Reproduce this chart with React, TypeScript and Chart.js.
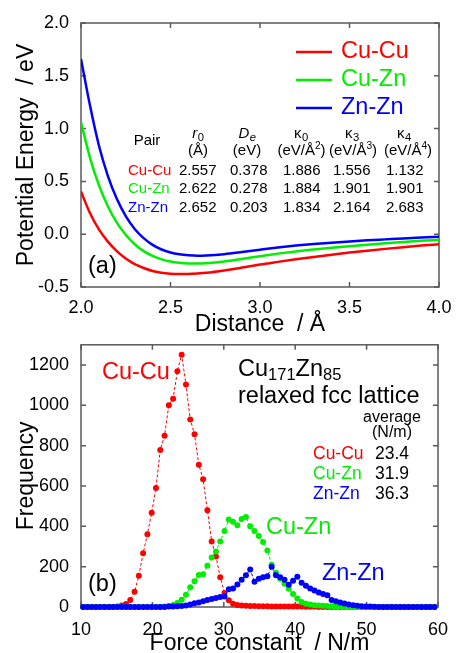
import React, { useEffect, useRef } from 'react';
import { Chart, registerables } from 'chart.js';

Chart.register(...registerables);

const FONT = '"Liberation Sans", Arial, Helvetica, sans-serif';
const AXIS = '#5a5a5a';

// ---------- Panel (a): potential energy ----------
const pairNames = ['Cu-Cu', 'Cu-Zn', 'Zn-Zn'];
const pairColors = ['#ff0000', '#00ee00', '#0000ff'];

const distance = [2.0, 2.05, 2.1, 2.15, 2.2, 2.25, 2.3, 2.35, 2.4, 2.45, 2.5, 2.55, 2.6, 2.65, 2.7,
  2.8, 2.9, 3.0, 3.1, 3.2, 3.3, 3.4, 3.5, 3.6, 3.7, 3.8, 3.9, 4.0];
const energyCuCu = [0.405, 0.2, 0.045, -0.07, -0.16, -0.23, -0.283, -0.32, -0.348, -0.366, -0.375, -0.378, -0.377, -0.372, -0.365,
  -0.343, -0.316, -0.287, -0.262, -0.238, -0.215, -0.194, -0.174, -0.156, -0.139, -0.123, -0.108, -0.095];
const energyCuZn = [1.063, 0.725, 0.465, 0.265, 0.11, -0.005, -0.095, -0.16, -0.206, -0.238, -0.259, -0.271, -0.277, -0.278, -0.274,
  -0.258, -0.234, -0.208, -0.184, -0.163, -0.145, -0.128, -0.113, -0.099, -0.086, -0.074, -0.063, -0.053];
const energyZnZn = [1.66, 1.22, 0.84, 0.553, 0.335, 0.171, 0.05, -0.037, -0.101, -0.145, -0.173, -0.19, -0.199, -0.203, -0.201,
  -0.189, -0.169, -0.147, -0.126, -0.108, -0.093, -0.08, -0.068, -0.058, -0.049, -0.04, -0.032, -0.025];

const tableR0 = ['2.557', '2.622', '2.652'];
const tableDe = ['0.378', '0.278', '0.203'];
const tableK0 = ['1.886', '1.884', '1.834'];
const tableK3 = ['1.556', '1.901', '2.164'];
const tableK4 = ['1.132', '1.901', '2.683'];

// ---------- Panel (b): force-constant histogram ----------
const forceConstant = [
  10.3, 10.9, 11.5, 12.1, 12.7, 13.3, 13.9, 14.5, 15.1, 15.7,
  16.3, 16.9, 17.5, 18.1, 18.7, 19.3, 19.9, 20.5, 21.1, 21.7,
  22.3, 22.9, 23.5, 24.1, 24.7, 25.3, 25.9, 26.5, 27.1, 27.7,
  28.3, 28.9, 29.5, 30.1, 30.7, 31.3, 31.9, 32.5, 33.1, 33.7,
  34.3, 34.9, 35.5, 36.1, 36.7, 37.3, 37.9, 38.5, 39.1, 39.7,
  40.3, 40.9, 41.5, 42.1, 42.7, 43.3, 43.9, 44.5, 45.1, 45.7,
  46.3, 46.9, 47.5, 48.1, 48.7, 49.3, 49.9, 50.5, 51.1, 51.7,
  52.3, 52.9, 53.5, 54.1, 54.7, 55.3, 55.9, 56.5, 57.1, 57.7,
  58.3, 58.9, 59.5];
const freqCuCu = [
  0, 0, 0, 0, 0, 0, 0, 0, 3, 7,
  15, 35, 75, 155, 266, 361, 467, 590, 779, 849,
  1000, 1033, 1169, 1251, 1103, 930, 857, 705, 634, 480,
  325, 251, 148, 69, 33, 16, 10, 7, 6, 5,
  5, 4, 4, 4, 3, 3, 3, 3, 2, 2,
  2, 2, 1, 1, 1, 0, 0, 0, 0, 0,
  0, 0, 0, 0, 0, 0, 0, 0, 0, 0,
  0, 0, 0, 0, 0, 0, 0, 0, 0, 0,
  0, 0, 0];
const freqCuZn = [
  0, 0, 0, 0, 0, 0, 0, 0, 0, 0,
  0, 0, 0, 0, 0, 0, 0, 0, 0, 2,
  5, 10, 20, 36, 61, 98, 128, 159, 162, 205,
  246, 275, 325, 377, 434, 423, 405, 436, 446, 400,
  377, 352, 322, 280, 210, 170, 140, 115, 90, 65,
  42, 25, 16, 12, 9, 7, 6, 5, 4, 3,
  2, 1, 1, 0, 0, 0, 0, 0, 0, 0,
  0, 0, 0, 0, 0, 0, 0, 0, 0, 0,
  0, 0, 0];
const freqZnZn = [
  0, 0, 0, 0, 0, 0, 0, 0, 0, 0,
  0, 0, 0, 0, 0, 0, 0, 0, 0, 0,
  2, 3, 4, 5, 8, 12, 18, 22, 28, 35,
  40, 45, 50, 52, 88, 92, 112, 135, 158, 186,
  125, 140, 148, 152, 200, 157, 148, 135, 110, 130,
  150, 120, 105, 92, 82, 72, 65, 58, 35, 28,
  22, 17, 13, 9, 6, 4, 3, 2, 1, 0,
  0, 0, 0, 0, 0, 0, 0, 0, 0, 0,
  0, 0, 0];
const averageForce = ['23.4', '31.9', '36.3'];

const toXY = (xs: number[], ys: number[]) => xs.map((x, i) => ({ x, y: ys[i] }));

const framePlugin = {
  id: 'frameTicks',
  beforeDatasetsDraw(chart: any) {
    const { ctx, chartArea: a, scales } = chart;
    ctx.save();
    ctx.strokeStyle = AXIS;
    ctx.lineWidth = 1.5;
    ctx.strokeRect(a.left, a.top, a.right - a.left, a.bottom - a.top);
    const L = 5;
    ctx.beginPath();
    scales.x.ticks.forEach((t: any) => {
      const p = scales.x.getPixelForValue(t.value);
      ctx.moveTo(p, a.bottom); ctx.lineTo(p, a.bottom - L);
      ctx.moveTo(p, a.top); ctx.lineTo(p, a.top + L);
    });
    scales.y.ticks.forEach((t: any) => {
      const p = scales.y.getPixelForValue(t.value);
      ctx.moveTo(a.left, p); ctx.lineTo(a.left + L, p);
      ctx.moveTo(a.right, p); ctx.lineTo(a.right - L, p);
    });
    ctx.stroke();
    ctx.restore();
  },
};

function font(size: number, italic = false) {
  return `${italic ? 'italic ' : ''}${size}px ${FONT}`;
}

function text(ctx: any, s: string, x: number, y: number, size: number, color = '#000', align = 'left') {
  ctx.font = font(size);
  ctx.fillStyle = color;
  ctx.textAlign = align;
  ctx.textBaseline = 'middle';
  ctx.fillText(s, x, y);
}

function symbolSub(ctx: any, main: string, sub: string, cx: number, base: number, size: number, mi: boolean, si: boolean) {
  const ss = size * 0.75;
  ctx.textBaseline = 'alphabetic';
  ctx.textAlign = 'left';
  ctx.fillStyle = '#000';
  ctx.font = font(size, mi); const w1 = ctx.measureText(main).width;
  ctx.font = font(ss, si); const w2 = ctx.measureText(sub).width;
  const x0 = cx - (w1 + w2) / 2;
  ctx.font = font(size, mi); ctx.fillText(main, x0, base);
  ctx.font = font(ss, si); ctx.fillText(sub, x0 + w1 + 0.5, base + 3.5);
}

function unitSup(ctx: any, pre: string, sup: string, cx: number, mid: number, size: number) {
  const ss = size * 0.68;
  ctx.textBaseline = 'middle';
  ctx.textAlign = 'left';
  ctx.fillStyle = '#000';
  ctx.font = font(size); const w1 = ctx.measureText(pre).width;
  ctx.font = font(ss); const w2 = sup ? ctx.measureText(sup).width : 0;
  ctx.font = font(size); const w3 = ctx.measureText(')').width;
  const x0 = cx - (w1 + w2 + w3) / 2;
  ctx.font = font(size); ctx.fillText(pre, x0, mid);
  if (sup) { ctx.font = font(ss); ctx.fillText(sup, x0 + w1, mid - 5); }
  ctx.font = font(size); ctx.fillText(')', x0 + w1 + w2, mid);
}

const panelAPlugin = {
  id: 'panelA',
  afterDraw(chart: any) {
    const { ctx } = chart;
    ctx.save();
    // legend
    chart.data.datasets.forEach((ds: any, i: number) => {
      const y = 52 + i * 28;
      ctx.strokeStyle = ds.borderColor;
      ctx.lineWidth = 2.5;
      ctx.beginPath(); ctx.moveTo(296, y); ctx.lineTo(332, y); ctx.stroke();
      text(ctx, ds.label, 341, y, 23.5, ds.borderColor);
    });
    // table header
    text(ctx, 'Pair', 147, 140.5, 15, '#000', 'center');
    const cols = [198, 247, 301, 352, 404];
    symbolSub(ctx, 'r', '0', cols[0], 137.5, 15, true, false);
    symbolSub(ctx, 'D', 'e', cols[1], 137.5, 15, true, true);
    symbolSub(ctx, 'κ', '0', cols[2], 137.5, 15, false, false);
    symbolSub(ctx, 'κ', '3', cols[3], 137.5, 15, false, false);
    symbolSub(ctx, 'κ', '4', cols[4], 137.5, 15, false, false);
    unitSup(ctx, '(Å', '', 198, 150.7, 15);
    unitSup(ctx, '(eV', '', 247, 150.7, 15);
    unitSup(ctx, '(eV/Å', '2', 301.5, 150.7, 15);
    unitSup(ctx, '(eV/Å', '3', 353, 150.7, 15);
    unitSup(ctx, '(eV/Å', '4', 408, 150.7, 15);
    const rowsY = [170.7, 189.3, 208.3];
    const lefts = [179, 230, 283, 333, 386];
    const vals = [tableR0, tableDe, tableK0, tableK3, tableK4];
    pairNames.forEach((p, r) => {
      text(ctx, p, 128, rowsY[r], 15, pairColors[r]);
      vals.forEach((col, c) => text(ctx, col[r], lefts[c], rowsY[r], 15));
    });
    text(ctx, '(a)', 88, 267, 23.5);
    ctx.restore();
  },
};

const panelBPlugin = {
  id: 'panelB',
  afterDraw(chart: any) {
    const { ctx } = chart;
    const o = 330;
    ctx.save();
    text(ctx, pairNames[0], 102, 373 - o, 23.5, pairColors[0]);
    text(ctx, pairNames[1], 266, 528 - o, 23.5, pairColors[1]);
    text(ctx, pairNames[2], 322, 574 - o, 23.5, pairColors[2]);
    // composition
    ctx.fillStyle = '#000';
    ctx.textAlign = 'left';
    ctx.textBaseline = 'alphabetic';
    let x = 238;
    const parts: [string, boolean][] = [['Cu', false], ['171', true], ['Zn', false], ['85', true]];
    parts.forEach(([s, sub]) => {
      ctx.font = font(sub ? 16.5 : 23.5);
      ctx.fillText(s, x, sub ? 379.5 - o : 375.5 - o);
      x += ctx.measureText(s).width;
    });
    ctx.font = font(23.5);
    ctx.fillText('relaxed fcc lattice', 238, 402.5 - o);
    text(ctx, 'average', 392, 418 - o, 16, '#000', 'center');
    text(ctx, '(N/m)', 392, 433 - o, 16, '#000', 'center');
    const ry = [454, 474, 494];
    pairNames.forEach((p, i) => {
      text(ctx, p, 313, ry[i] - o, 17.5, pairColors[i]);
      text(ctx, averageForce[i], 375, ry[i] - o, 17.5);
    });
    text(ctx, '(b)', 88, 585 - o, 23.5);
    ctx.restore();
  },
};

const tickFont = { family: FONT, size: 18 };
const titleFont = { family: FONT, size: 23 };

export default function App() {
  const refA = useRef<HTMLCanvasElement>(null);
  const refB = useRef<HTMLCanvasElement>(null);

  useEffect(() => {
    const energies = [energyCuCu, energyCuZn, energyZnZn];
    const chartA = new Chart(refA.current as HTMLCanvasElement, {
      type: 'line',
      data: {
        datasets: pairNames.map((name, i) => ({
          label: name,
          data: toXY(distance, energies[i]),
          borderColor: pairColors[i],
          backgroundColor: pairColors[i],
          borderWidth: 2.5,
          pointRadius: 0,
          cubicInterpolationMode: 'monotone' as const,
          fill: false,
        })),
      },
      options: {
        responsive: false,
        animation: false,
        events: [],
        layout: { padding: { top: 23, right: 17, left: 0, bottom: 0 } },
        plugins: { legend: { display: false }, tooltip: { enabled: false } },
        scales: {
          x: {
            type: 'linear', min: 2, max: 4,
            grid: { display: false }, border: { display: false },
            ticks: { stepSize: 0.5, autoSkip: false, maxRotation: 0, padding: 2, color: '#000', font: tickFont,
              callback: (v: any) => Number(v).toFixed(1) },
            title: { display: true, text: 'Distance  / Å', color: '#000', font: titleFont, padding: { top: 0, bottom: 2 } },
            afterFit: (s: any) => { s.height = 53; },
          },
          y: {
            type: 'linear', min: -0.5, max: 2.0,
            grid: { display: false }, border: { display: false },
            ticks: { stepSize: 0.5, autoSkip: false, padding: 4, color: '#000', font: tickFont,
              callback: (v: any) => Number(v).toFixed(1) },
            title: { display: true, text: 'Potential Energy  / eV', color: '#000', font: titleFont, padding: { top: 13, bottom: 0 } },
            afterFit: (s: any) => { s.width = 81; },
          },
        },
      } as any,
      plugins: [framePlugin, panelAPlugin],
    });

    const freqs = [freqCuCu, freqCuZn, freqZnZn];
    const orders = [2, 1, 0];
    const chartB = new Chart(refB.current as HTMLCanvasElement, {
      type: 'line',
      data: {
        datasets: pairNames.map((name, i) => ({
          label: name,
          data: toXY(forceConstant, freqs[i]),
          borderColor: pairColors[i],
          backgroundColor: pairColors[i],
          borderWidth: 1,
          borderDash: [3, 2],
          pointRadius: 3,
          pointBorderWidth: 0,
          pointBackgroundColor: pairColors[i],
          tension: 0,
          fill: false,
          clip: 6,
          order: orders[i],
        })),
      },
      options: {
        responsive: false,
        animation: false,
        events: [],
        layout: { padding: { top: 13, right: 18, left: 0, bottom: 0 } },
        plugins: { legend: { display: false }, tooltip: { enabled: false } },
        scales: {
          x: {
            type: 'linear', min: 10, max: 60,
            grid: { display: false }, border: { display: false },
            ticks: { stepSize: 10, autoSkip: false, maxRotation: 0, padding: 4, color: '#000', font: tickFont,
              callback: (v: any) => String(v) },
            title: { display: true, text: 'Force constant  / N/m', color: '#000', font: titleFont, padding: { top: 0, bottom: 3 } },
            afterFit: (s: any) => { s.height = 53; },
          },
          y: {
            type: 'linear', min: 0, max: 1300,
            grid: { display: false }, border: { display: false },
            ticks: { stepSize: 200, includeBounds: false, autoSkip: false, padding: 4, color: '#000', font: tickFont,
              callback: (v: any) => String(v) },
            title: { display: true, text: 'Frequency', color: '#000', font: titleFont, padding: { top: 13, bottom: 0 } },
            afterFit: (s: any) => { s.width = 81; },
          },
        },
      } as any,
      plugins: [framePlugin, panelBPlugin],
    });

    return () => { chartA.destroy(); chartB.destroy(); };
  }, []);

  return (
    <div style={{ position: 'fixed', left: 0, top: 0, width: 456, height: 653, overflow: 'hidden', background: '#fff' }}>
      <canvas ref={refA} width={456} height={340} style={{ position: 'absolute', left: 0, top: 0 }} />
      <canvas ref={refB} width={456} height={330} style={{ position: 'absolute', left: 0, top: 330 }} />
    </div>
  );
}
